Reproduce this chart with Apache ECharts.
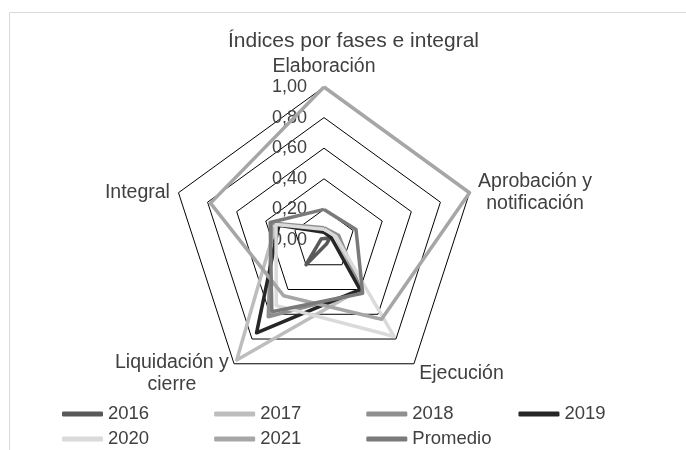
<!DOCTYPE html>
<html>
<head>
<meta charset="utf-8">
<script src="https://cdn.jsdelivr.net/npm/echarts@6/dist/echarts.min.js"></script>
<style>
  html, body { margin: 0; padding: 0; background: #fff; }
  #indices-fases { width: 686px; height: 450px; }
</style>
</head>
<body>
<div id="indices-fases"></div>
<script>
// Fases (ejes del radar), en el orden de las columnas de datos
const fases = ["Elaboración", "Aprobación y\nnotificación", "Ejecución", "Liquidación y\ncierre", "Integral"];
const etiquetasEje = ["0,00", "0,20", "0,40", "0,60", "0,80", "1,00"];

// Valores, en el orden de las fases
const v2016 = [0.01, 0.04, 0.03, 0.2, 0.02];
const v2017 = [0.07, 0.08, 0.4, 0.97, 0.33];
const v2018 = [0.08, 0.1, 0.42, 0.62, 0.36];
const v2019 = [0.05, 0.05, 0.4, 0.75, 0.31];
const v2020 = [0.07, 0.08, 0.78, 0.53, 0.33];
const v2021 = [1.0, 1.0, 0.64, 0.45, 0.78];
const vPromedio = [0.2, 0.22, 0.43, 0.58, 0.37];

// ECharts gira en sentido antihorario: se invierte el orden para que quede horario
const orden = [0, 4, 3, 2, 1];

const series = [
  { name: "2016", valores: v2016, color: "#595959" },
  { name: "2017", valores: v2017, color: "#bdbdbd" },
  { name: "2018", valores: v2018, color: "#8f8f8f" },
  { name: "2019", valores: v2019, color: "#262626" },
  { name: "2020", valores: v2020, color: "#dadada" },
  { name: "2021", valores: v2021, color: "#a6a6a6" },
  { name: "Promedio", valores: vPromedio, color: "#7a7a7a" },
];

const fuente = "'Liberation Sans', Arial, sans-serif";
const colorTexto = "#404040";

var myChart = echarts.init(document.getElementById("indices-fases"));

var option = {
  animation: false,
  textStyle: { fontFamily: fuente },
  graphic: [
    {
      type: "rect",
      shape: { x: 9.5, y: 12.5, width: 720, height: 480 },
      style: { fill: "none", stroke: "#d9d9d9", lineWidth: 1 },
      silent: true,
    },
  ],
  title: {
    text: "Índices por fases e integral",
    left: 223,
    top: 26,
    textStyle: { fontSize: 21, fontWeight: "normal", color: colorTexto, fontFamily: fuente },
  },
  legend: [
    { data: ["2016", "2017", "2018", "2019"], top: 398 },
    { data: ["2020", "2021", "Promedio"], top: 423 },
  ].map((l) => ({
    ...l,
    left: 57,
    itemGap: 65,
    icon: "roundRect",
    itemWidth: 41,
    itemHeight: 5,
    selectedMode: false,
    textStyle: { fontSize: 18.5, color: colorTexto, fontFamily: fuente, lineHeight: 22 },
  })),
  radar: {
    center: [324, 240],
    radius: 153,
    shape: "polygon",
    splitNumber: 5,
    startAngle: 90,
    nameGap: 9,
    indicator: orden.map((i) => {
      const ind = { name: fases[i], min: 0, max: 1 };
      if (i === 0) {
        // solo el eje superior lleva etiquetas
        ind.axisLabel = {
          show: true,
          margin: 17,
          showMinLabel: true,
          showMaxLabel: true,
          fontSize: 18,
          color: colorTexto,
          fontFamily: fuente,
          formatter: (v) => etiquetasEje[Math.round(v * 5)],
        };
      }
      return ind;
    }),
    axisName: {
      color: colorTexto,
      fontFamily: fuente,
      fontSize: 19.5,
      lineHeight: 22,
      padding: [6, 0, 0, 0],
      formatter: (name) =>
        name
          .split("\n")
          .map((s) => "{c|" + s + "}")
          .join("\n"),
      rich: {
        c: { align: "center", fontSize: 19.5, lineHeight: 22, color: colorTexto, fontFamily: fuente },
      },
    },
    axisLine: { show: false },
    axisTick: { show: false },
    axisLabel: { show: false },
    splitArea: { show: false },
    splitLine: { lineStyle: { color: "#000", width: 1 } },
  },
  series: series.map((s) => ({
    name: s.name,
    type: "radar",
    symbol: "none",
    color: s.color,
    lineStyle: { color: s.color, width: 3.5 },
    data: [{ value: orden.map((i) => s.valores[i]), name: s.name }],
  })),
};

myChart.setOption(option);
</script>
</body>
</html>
